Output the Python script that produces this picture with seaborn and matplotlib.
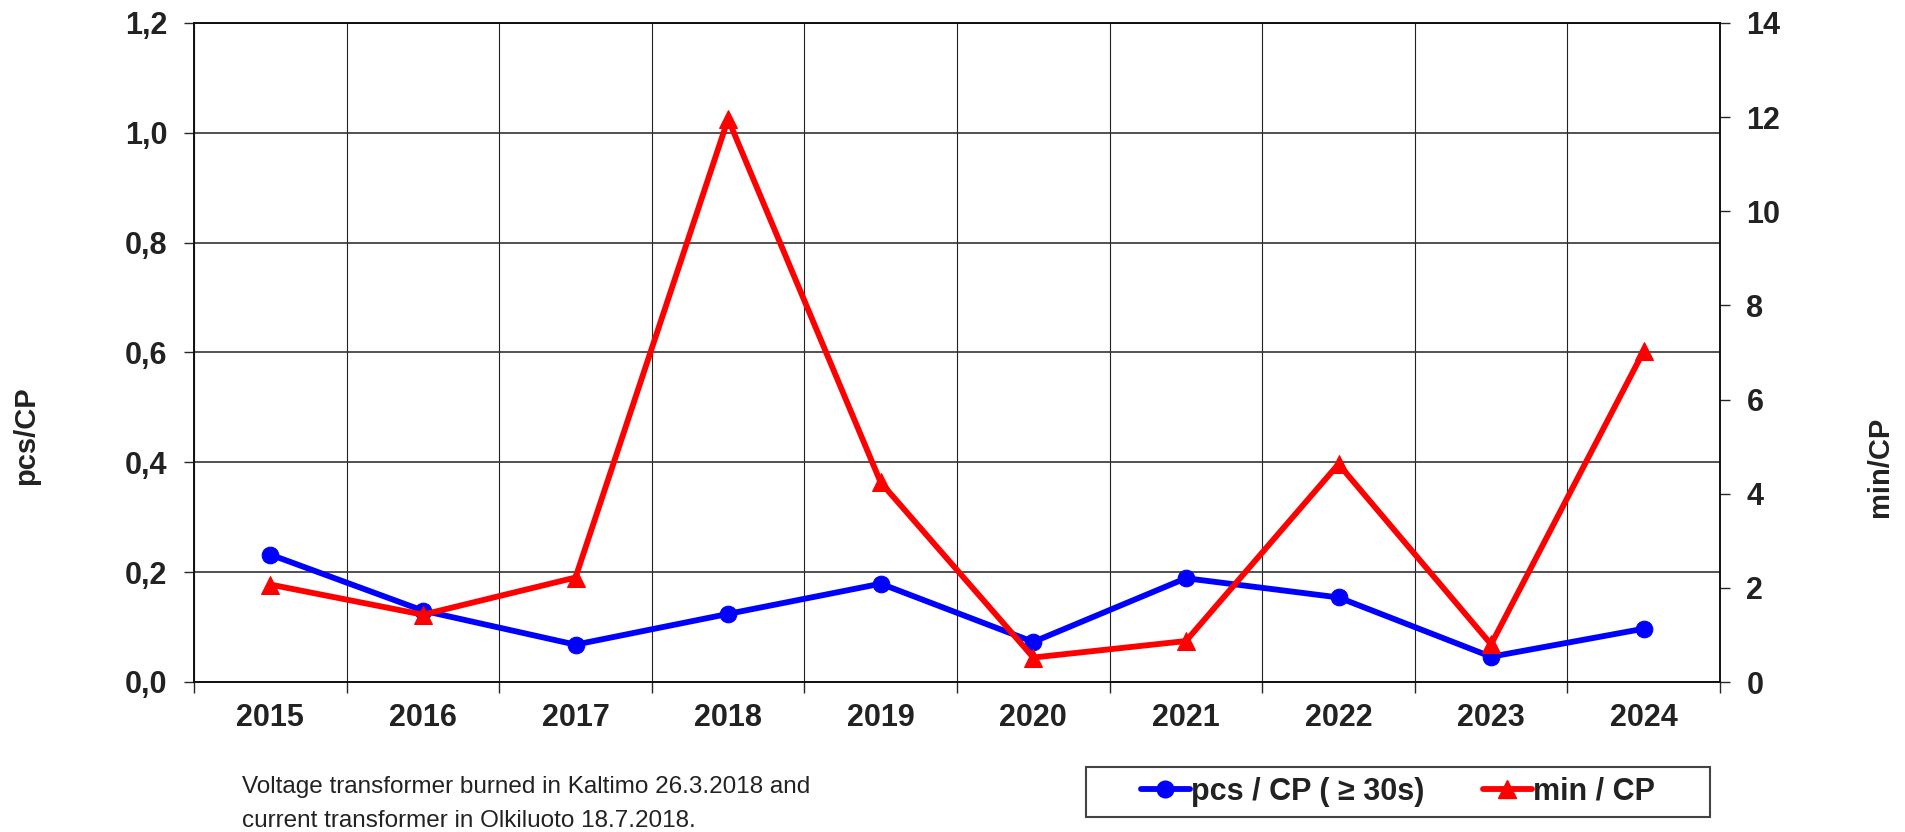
import numpy as np
import pandas as pd
import matplotlib
matplotlib.use("Agg")
import matplotlib.pyplot as plt
from matplotlib.ticker import FuncFormatter, FixedLocator, MultipleLocator
from matplotlib.lines import Line2D
from matplotlib.patches import Rectangle
import seaborn as sns

years = ["2015", "2016", "2017", "2018", "2019", "2020", "2021", "2022", "2023", "2024"]
pcs_per_cp = [0.232, 0.130, 0.068, 0.124, 0.179, 0.073, 0.189, 0.154, 0.046, 0.097]
min_per_cp = [2.07, 1.43, 2.22, 11.96, 4.24, 0.52, 0.87, 4.63, 0.80, 7.03]

note = "Voltage transformer burned in Kaltimo 26.3.2018 and\ncurrent transformer in Olkiluoto 18.7.2018."
labels = ["pcs / CP ( ≥ 30s)", "min / CP"]

sns.set_theme(style="white")
plt.rcParams["font.family"] = ["Liberation Sans", "DejaVu Sans"]

df = pd.DataFrame({"year": years, "pcs": pcs_per_cp, "mins": min_per_cp})
df["pos"] = np.arange(len(years))

W, H = 1906, 832
fig = plt.figure(figsize=(W / 100, H / 100), dpi=100)
ax = fig.add_axes([194 / W, 1 - 682 / H, (1720 - 194) / W, (682 - 23) / H])
ax2 = ax.twinx()

sns.lineplot(data=df, x="pos", y="pcs", ax=ax, color="#0000ff", linewidth=4.2,
             marker="o", markersize=12, markeredgecolor="#0000ff", zorder=3)
sns.lineplot(data=df, x="pos", y="mins", ax=ax2, color="#ff0000", linewidth=4.2,
             marker="^", markersize=13, markeredgecolor="#ff0000", zorder=4)

# left axis carries the grid
ax.set_xlim(-0.5, len(years) - 0.5)
ax.set_ylim(0, 1.2)
ax2.set_ylim(0, 14)
ax.yaxis.set_major_locator(MultipleLocator(0.2))
ax2.yaxis.set_major_locator(MultipleLocator(2))
ax.set_xticks(df["pos"])
ax.set_xticklabels(years)
ax.xaxis.set_minor_locator(FixedLocator(np.arange(-0.5, len(years), 1.0)))
ax.grid(True, which="major", axis="y", color="#333333", linewidth=1.2)
ax.grid(True, which="minor", axis="x", color="#222222", linewidth=0.8)
ax.set_axisbelow(True)

ax.yaxis.set_major_formatter(FuncFormatter(lambda v, p: f"{v:.1f}".replace(".", ",")))

ax.tick_params(axis="y", which="major", direction="out", length=7, width=1, pad=12,
               labelsize=22, labelcolor="#222222", left=True)
ax.tick_params(axis="x", which="major", length=0, pad=15, labelsize=22, labelcolor="#222222")
ax.tick_params(axis="x", which="minor", direction="out", length=8, width=1, bottom=True)
ax2.tick_params(axis="y", direction="out", length=7, width=1, pad=12,
                labelsize=22, labelcolor="#222222", right=True)
for lab in ax.get_xticklabels() + ax.get_yticklabels() + ax2.get_yticklabels():
    lab.set_fontweight("bold")

for a in (ax, ax2):
    for s in a.spines.values():
        s.set_color("#111111")
        s.set_linewidth(1.2)

ax.set_xlabel("")
ax.set_ylabel("")
ax2.set_ylabel("")
fig.text(26 / W, 1 - 436 / H, "pcs/CP", rotation=90, ha="center", va="center",
         fontsize=21, fontweight="bold", color="#222222")
fig.text(1880 / W, 1 - 467 / H, "min/CP", rotation=90, ha="center", va="center",
         fontsize=21, fontweight="bold", color="#222222")

fig.text(242 / W, 1 - 804 / H, note, ha="left", va="center", fontsize=17.5,
         color="#222222", linespacing=1.65)

# legend box
fig.patches.append(Rectangle((1086 / W, 1 - 817 / H), (1710 - 1086) / W, 50 / H,
                             transform=fig.transFigure, facecolor="white",
                             edgecolor="#444444", linewidth=1.5))
handles = [
    Line2D([], [], color="#0000ff", linewidth=4.2, marker="o", markersize=12,
           solid_capstyle="round"),
    Line2D([], [], color="#ff0000", linewidth=4.2, marker="^", markersize=13,
           solid_capstyle="round"),
]
leg = fig.legend(handles, labels, ncol=2, loc="center",
                 bbox_to_anchor=(1398 / W, 1 - 792 / H), frameon=False,
                 handlelength=1.6, handletextpad=0.05, columnspacing=1.9,
                 borderpad=0.2, prop={"size": 22, "weight": "bold"})
for t in leg.get_texts():
    t.set_color("#222222")

fig.savefig("out.png", dpi=100)
